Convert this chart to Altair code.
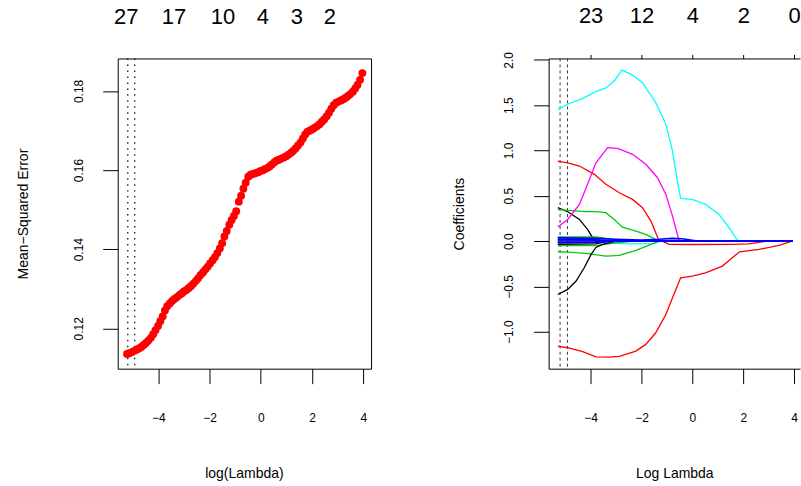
import altair as alt
import pandas as pd

FONT = "Liberation Sans"

# ---------------- left panel: cross-validated MSE ----------------
cv_log_lambda = [
    -5.22, -5.13, -5.03, -4.94, -4.85, -4.76, -4.66, -4.57, -4.48, -4.39,
    -4.29, -4.20, -4.11, -4.01, -3.92, -3.83, -3.74, -3.65, -3.55, -3.46,
    -3.37, -3.27, -3.18, -3.09, -3.00, -2.90, -2.81, -2.72, -2.63, -2.53,
    -2.44, -2.35, -2.25, -2.16, -2.07, -1.98, -1.88, -1.79, -1.70, -1.60,
    -1.51, -1.42, -1.33, -1.23, -1.14, -1.05, -0.96, -0.86, -0.77, -0.68,
    -0.59, -0.49, -0.40, -0.31, -0.22, -0.12, -0.03, 0.06, 0.15, 0.25,
    0.34, 0.43, 0.53, 0.62, 0.71, 0.80, 0.90, 0.99, 1.08, 1.18,
    1.27, 1.36, 1.45, 1.55, 1.64, 1.73, 1.82, 1.92, 2.01, 2.10,
    2.20, 2.29, 2.38, 2.47, 2.57, 2.66, 2.75, 2.84, 2.94, 3.03,
    3.12, 3.22, 3.31, 3.40, 3.49, 3.59, 3.68, 3.77, 3.87, 3.96,
]
cv_mse = [
    0.1135, 0.1137, 0.1140, 0.1143, 0.1146, 0.1149, 0.1153, 0.1158, 0.1163, 0.1169,
    0.1176, 0.1185, 0.1195, 0.1206, 0.1218, 0.1230, 0.1245, 0.1256, 0.1263, 0.1269,
    0.1274, 0.1279, 0.1284, 0.1288, 0.1293, 0.1297, 0.1302, 0.1307, 0.1313, 0.1320,
    0.1327, 0.1335, 0.1342, 0.1349, 0.1356, 0.1364, 0.1372, 0.1380, 0.1390, 0.1402,
    0.1415, 0.1432, 0.1446, 0.1462, 0.1474, 0.1484, 0.1496, 0.1520, 0.1535, 0.1553,
    0.1568, 0.1583, 0.1588, 0.1590, 0.1592, 0.1594, 0.1597, 0.1599, 0.1602, 0.1605,
    0.1609, 0.1614, 0.1620, 0.1624, 0.1626, 0.1629, 0.1632, 0.1635, 0.1639, 0.1644,
    0.1649, 0.1655, 0.1662, 0.1670, 0.1680, 0.1690, 0.1697, 0.1700, 0.1703, 0.1707,
    0.1711, 0.1716, 0.1722, 0.1728, 0.1736, 0.1745, 0.1755, 0.1764, 0.1770, 0.1773,
    0.1776, 0.1779, 0.1783, 0.1787, 0.1792, 0.1798, 0.1806, 0.1815, 0.1828, 0.1845,
]
cv_vlines = [-5.19, -4.92]
cv_top_pos = [-5.25, -3.39, -1.48, 0.08, 1.40, 2.69]
cv_top_labels = ["27", "17", "10", "4", "3", "2"]
cv_x_ticks = [-4, -2, 0, 2, 4]
cv_y_ticks = [0.12, 0.14, 0.16, 0.18]

# ---------------- right panel: coefficient paths ----------------
cyan_a_x = [-5.29, -4.90, -4.31, -3.79, -3.40, -3.07, -2.77, -2.35, -1.96, -1.44,
            -1.04, -0.78, -0.59, -0.46, 0.00, 0.52, 1.05, 1.44, 1.80, 3.95]
cyan_a_y = [1.45, 1.51, 1.575, 1.648, 1.69, 1.766, 1.887, 1.832, 1.747, 1.527,
            1.288, 0.993, 0.662, 0.471, 0.46, 0.405, 0.294, 0.147, 0.0, 0.0]
magenta_a_x = [-5.29, -4.90, -4.44, -4.12, -3.79, -3.33, -2.94, -2.35, -1.83, -1.37,
               -1.04, -0.78, -0.52, 3.95]
magenta_a_y = [0.155, 0.239, 0.405, 0.626, 0.864, 1.03, 1.023, 0.957, 0.847, 0.699,
               0.515, 0.276, 0.0, 0.0]
red_a_x = [-5.29, -4.90, -4.44, -3.85, -3.40, -2.87, -2.35, -1.96, -1.63, -1.33,
           -0.91, 0.00, 1.57, 2.20, 3.00, 3.95]
red_a_y = [0.883, 0.864, 0.828, 0.736, 0.626, 0.533, 0.46, 0.368, 0.221, 0.018,
           -0.037, -0.038, -0.037, -0.03, 0.0, 0.0]
red_b_x = [-5.29, -4.90, -4.31, -3.79, -3.27, -2.87, -2.22, -1.83, -1.44, -1.04,
           -0.78, -0.46, 0.00, 0.52, 1.18, 1.57, 1.86, 2.62, 3.40, 3.92]
red_b_y = [-1.159, -1.177, -1.221, -1.277, -1.28, -1.273, -1.214, -1.14, -1.012, -0.809,
           -0.626, -0.405, -0.386, -0.35, -0.276, -0.184, -0.118, -0.092, -0.048, 0.0]
black_a_x = [-5.29, -4.90, -4.44, -4.12, -3.88, -3.80, 3.95]
black_a_y = [0.368, 0.324, 0.239, 0.129, 0.018, 0.0, 0.0]
black_b_x = [-5.29, -4.90, -4.57, -4.25, -3.98, -3.79, -3.53, -3.00, 3.95]
black_b_y = [-0.589, -0.533, -0.441, -0.294, -0.147, -0.070, -0.037, 0.0, 0.0]
black_c_x = [-5.29, -3.80, -3.30, 3.95]
black_c_y = [-0.035, -0.030, 0.0, 0.0]
green_a_x = [-5.29, -4.90, -4.18, -3.79, -3.40, -3.07, -2.75, -2.22, -1.83, -1.31, 3.95]
green_a_y = [0.35, 0.339, 0.324, 0.324, 0.313, 0.239, 0.154, 0.11, 0.074, 0.0, 0.0]
green_b_x = [-5.29, -4.90, -4.18, -3.40, -2.87, -2.22, -1.70, -1.31, 3.95]
green_b_y = [-0.118, -0.121, -0.136, -0.166, -0.158, -0.103, -0.044, 0.0, 0.0]
green_c_x = [-5.29, -3.79, -3.20, -2.60, 3.95]
green_c_y = [0.045, 0.045, 0.02, 0.0, 0.0]
green_d_x = [-5.29, -3.79, -3.00, -2.30, 3.95]
green_d_y = [-0.05, -0.05, -0.02, 0.0, 0.0]
cyan_b_x = [-5.29, -3.50, -2.50, -1.50, -1.20, 3.95]
cyan_b_y = [-0.01, -0.02, -0.03, -0.025, 0.0, 0.0]
magenta_b_x = [-5.29, -3.80, -3.20, 3.95]
magenta_b_y = [-0.02, -0.02, 0.0, 0.0]
red_c_x = [-5.29, -3.80, -3.20, 3.95]
red_c_y = [0.01, 0.01, 0.0, 0.0]
blue_a_x = [-5.29, -4.50, -3.80, -3.00, -2.00, -1.30, -0.80, -0.40, 0.20, 3.95]
blue_a_y = [0.035, 0.033, 0.03, 0.02, 0.012, 0.02, 0.03, 0.025, 0.0, 0.0]
blue_b_x = [-5.29, -3.80, -3.00, 3.95]
blue_b_y = [0.02, 0.015, 0.0, 0.0]
blue_c_x = [-5.29, -3.80, -2.80, 3.95]
blue_c_y = [-0.015, -0.012, 0.0, 0.0]
blue_d_x = [-5.29, 3.95]
blue_d_y = [0.0, 0.0]

path_vlines = [-5.20, -4.91]
path_top_pos = [-4, -2, 0, 2, 4]
path_top_labels = ["23", "12", "4", "2", "0"]
path_x_ticks = [-4, -2, 0, 2, 4]
path_y_ticks = [-1.0, -0.5, 0.0, 0.5, 1.0, 1.5, 2.0]

R_COL = {"black": "#000000", "red": "#FF0000", "green": "#00CD00",
         "blue": "#0000FF", "cyan": "#00FFFF", "magenta": "#FF00FF"}

main_paths = [
    ("black_a", "black", black_a_x, black_a_y),
    ("red_c", "red", red_c_x, red_c_y),
    ("green_c", "green", green_c_x, green_c_y),
    ("cyan_b", "cyan", cyan_b_x, cyan_b_y),
    ("magenta_b", "magenta", magenta_b_x, magenta_b_y),
    ("black_c", "black", black_c_x, black_c_y),
    ("green_d", "green", green_d_x, green_d_y),
    ("green_b", "green", green_b_x, green_b_y),
    ("black_b", "black", black_b_x, black_b_y),
    ("green_a", "green", green_a_x, green_a_y),
    ("red_a", "red", red_a_x, red_a_y),
    ("magenta_a", "magenta", magenta_a_x, magenta_a_y),
    ("cyan_a", "cyan", cyan_a_x, cyan_a_y),
    ("red_b", "red", red_b_x, red_b_y),
]
blue_paths = [
    ("blue_a", "blue", blue_a_x, blue_a_y),
    ("blue_b", "blue", blue_b_x, blue_b_y),
    ("blue_c", "blue", blue_c_x, blue_c_y),
    ("blue_d", "blue", blue_d_x, blue_d_y),
]


def paths_frame(paths):
    rows = []
    for name, col, xs, ys in paths:
        for i, (xv, yv) in enumerate(zip(xs, ys)):
            rows.append({"var": name, "col": R_COL[col], "x": xv, "y": yv, "ord": i})
    return pd.DataFrame(rows)


def label_expr(pos, labels):
    expr = ""
    for p, l in zip(pos, labels):
        expr += f"datum.value == {p} ? '{l}' : "
    return expr + "''"


# ---------------- build left chart ----------------
LW, LH = 254, 311
cv_df = pd.DataFrame({"x": cv_log_lambda, "y": cv_mse})
cv_x_scale = alt.Scale(domain=[-5.583, 4.30], nice=False, zero=False)
cv_y_scale = alt.Scale(domain=[0.1098, 0.1882], nice=False, zero=False)

cv_x_axis = alt.Axis(values=cv_x_ticks, format="d", title="log(Lambda)",
                     titleX=126.5, titleY=105, titleBaseline="middle", titleAlign="center",
                     labelBaseline="middle", labelPadding=34, domain=False)
cv_y_axis = alt.Axis(values=cv_y_ticks, format=".2f", title="Mean\u2212Squared Error",
                     titleAngle=270, titleX=-94, titleY=155.5, titleBaseline="middle",
                     titleAlign="center", labelAngle=270, labelAlign="center",
                     labelBaseline="middle", labelPadding=24, domain=False)

cv_points = alt.Chart(cv_df).mark_circle(color="#FF0000", size=62, opacity=1).encode(
    x=alt.X("x:Q", scale=cv_x_scale, axis=cv_x_axis),
    y=alt.Y("y:Q", scale=cv_y_scale, axis=cv_y_axis),
)
cv_rules = alt.Chart(pd.DataFrame({"x": cv_vlines})).mark_rule(
    color="black", strokeDash=[1.5, 4.5], strokeWidth=1.2
).encode(x=alt.X("x:Q", scale=cv_x_scale, axis=cv_x_axis))
cv_top = alt.Chart(pd.DataFrame({"x": cv_top_pos, "label": cv_top_labels})).mark_text(
    font=FONT, fontSize=22, align="center", baseline="middle", color="black"
).encode(x=alt.X("x:Q", scale=cv_x_scale, axis=cv_x_axis), y=alt.value(-42), text="label:N")

left = alt.layer(cv_rules, cv_points, cv_top).properties(width=LW, height=LH)

# ---------------- build right chart ----------------
RW, RH = 252, 311
p_x_scale = alt.Scale(domain=[-5.65, 4.232], nice=False, zero=False)
p_y_scale = alt.Scale(domain=[-1.408, 2.015], nice=False, zero=False)

p_y_axis = alt.Axis(values=path_y_ticks, format=".1f", title="Coefficients",
                    titleAngle=270, titleX=-89, titleY=155.5, titleBaseline="middle",
                    titleAlign="center", labelAngle=270, labelAlign="center",
                    labelBaseline="middle", labelPadding=25, domain=True)

main_lines = alt.Chart(paths_frame(main_paths)).mark_line(strokeWidth=1.3).encode(
    x=alt.X("x:Q", scale=p_x_scale,
            axis=alt.Axis(values=path_x_ticks, format="d", title="Log Lambda",
                          titleX=126, titleY=105, titleBaseline="middle", titleAlign="center",
                          labelBaseline="middle", labelPadding=34, domain=True)),
    y=alt.Y("y:Q", scale=p_y_scale, axis=p_y_axis),
    color=alt.Color("col:N", scale=None),
    detail="var:N",
    order="ord:Q",
)
blue_lines = alt.Chart(paths_frame(blue_paths)).mark_line(strokeWidth=1.6).encode(
    x=alt.X("x:Q", scale=p_x_scale, axis=None),
    y=alt.Y("y:Q", scale=p_y_scale, axis=p_y_axis),
    color=alt.Color("col:N", scale=None),
    detail="var:N",
    order="ord:Q",
)
p_rules = alt.Chart(pd.DataFrame({"x": path_vlines})).mark_rule(
    color="#3a3a3a", strokeDash=[3, 3], strokeWidth=1
).encode(
    x=alt.X("x:Q", scale=p_x_scale,
            axis=alt.Axis(orient="top", values=path_top_pos,
                          labelExpr=label_expr(path_top_pos, path_top_labels),
                          tickSize=4, labelFontSize=22, labelBaseline="middle",
                          labelPadding=39, title=None, domain=True))
)

right = alt.layer(p_rules, main_lines, blue_lines).resolve_axis(x="independent").properties(
    width=RW, height=RH, view=alt.ViewBackground(stroke="transparent")
)

chart = alt.hconcat(left, right, spacing=178, bounds="flush").properties(
    padding={"left": 16, "top": 3, "right": 0, "bottom": 0},
    background="white",
).configure_axis(
    labelFont=FONT, titleFont=FONT, labelColor="black", titleColor="black",
    tickColor="black", domainColor="black", grid=False, labelFontSize=12,
    titleFontSize=14, titleFontWeight="normal", tickSize=15, tickWidth=1,
    domainWidth=1, labelFlush=False, labelOverlap=False,
).configure_view(stroke="black", strokeWidth=1)

chart.save("out.html", embed_options={"renderer": "svg", "actions": False})
